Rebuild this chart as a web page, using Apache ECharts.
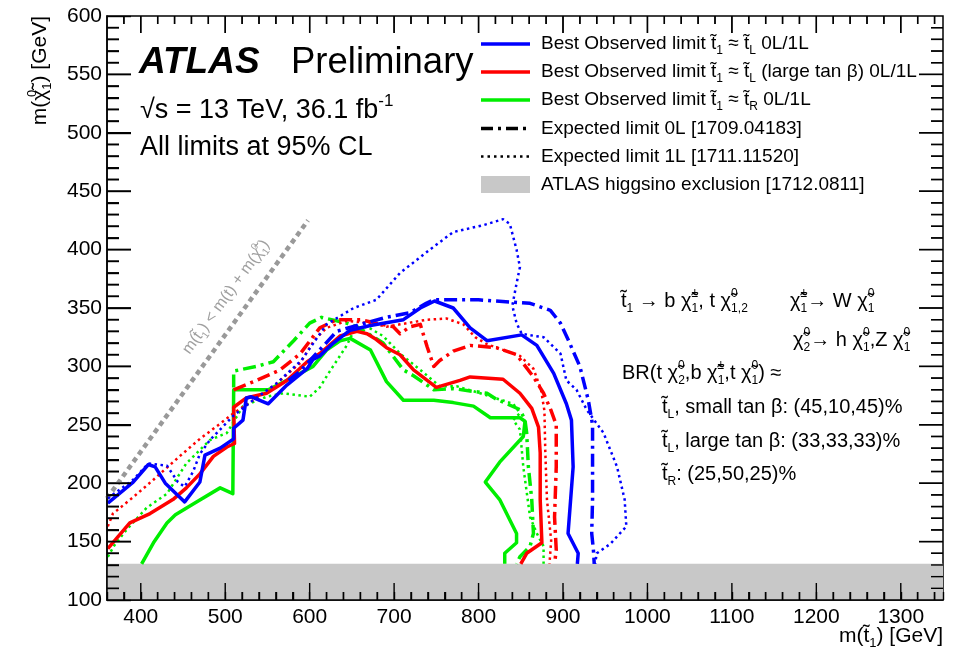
<!DOCTYPE html>
<html>
<head>
<meta charset="utf-8">
<script src="https://cdn.jsdelivr.net/npm/echarts@6/dist/echarts.min.js"></script>
<style>
  html, body { margin: 0; padding: 0; background: #fff; }
  #chart { width: 954px; height: 655px; }
</style>
</head>
<body>
<div id="chart"></div>
<script>
// axis ranges and tick labels
const xRange = [360, 1350]
const yRange = [100, 600]
const xTickLabels = [400, 500, 600, 700, 800, 900, 1000, 1100, 1200, 1300]
const yTickLabels = [100, 150, 200, 250, 300, 350, 400, 450, 500, 550, 600]

// higgsino exclusion band (upper edge) and kinematic limit
const higgsinoBand = [[360, 131], [1350, 131]]
const kinematicLine = [[360, 187], [598, 425]]

// t1 ~ tL (blue)
const blueObs = [[361,183],[391,201],[409,216],[417,214],[429,200],[452,184],[470,201],[476,224],[494,230],[510,238],[510,247],[521,254],[525,273],[531,274],[551,268],[573,284],[597,298],[604,306],[612,309],[628,320],[648,331],[672,335],[711,340],[731,350],[748,356],[770,350],[790,333],[810,322],[851,327],[869,318],[889,294],[904,268],[910,254],[912,214],[906,157],[918,140],[917,131]]
const blueExp0L = [[575,288],[589,296],[608,311],[632,330],[660,336],[691,342],[719,346],[738,354],[747,357],[800,357],[861,354],[885,348],[897,337],[906,323],[920,300],[930,271],[935,250],[935,186],[934,157],[936,143],[937,131]]
const blueExp1L = [[361,187],[391,203],[409,217],[431,215],[444,201],[452,197],[462,210],[470,225],[482,237],[510,258],[533,271],[560,285],[590,305],[620,336],[652,350],[679,357],[707,380],[746,402],[770,415],[806,421],[829,426],[837,422],[845,400],[849,385],[845,371],[840,352],[845,337],[851,328],[867,326],[877,325],[897,311],[904,288],[916,280],[928,263],[948,243],[964,214],[973,186],[975,163],[956,148],[940,140],[938,131]]

// t1 ~ tL large tan beta (red)
const redObs = [[361,144],[387,166],[411,174],[438,186],[454,196],[470,208],[486,223],[502,231],[511,234],[510,265],[525,273],[549,277],[573,288],[597,304],[612,311],[636,326],[656,330],[668,328],[679,323],[691,316],[707,310],[723,297],[750,282],[778,288],[790,291],[829,289],[849,277],[863,264],[871,248],[873,226],[873,186],[875,149],[857,140],[850,131]]
const redExp0L = [[510,280],[537,288],[565,297],[589,311],[612,333],[632,340],[660,340],[699,334],[707,328],[719,334],[731,336],[739,317],[747,300],[754,305],[770,313],[790,318],[821,316],[845,310],[865,291],[877,277],[886,262],[892,250],[892,214],[890,171],[892,143],[890,131]]
const redExp1L = [[361,163],[367,174],[391,188],[415,203],[446,223],[470,238],[494,251],[510,260],[533,271],[557,283],[589,303],[605,322],[620,333],[644,339],[672,337],[691,334],[707,336],[739,340],[762,341],[782,336],[796,325],[810,319],[849,309],[865,298],[874,280],[878,262],[879,228],[881,186],[886,151],[884,131]]

// t1 ~ tR (green)
const greenObs = [[401,131],[415,149],[431,166],[441,173],[466,184],[494,196],[509,191],[510,280],[551,280],[581,291],[604,300],[620,314],[636,322],[648,324],[672,314],[691,287],[711,271],[747,271],[770,269],[794,266],[814,256],[849,256],[855,253],[853,240],[825,218],[808,201],[825,186],[845,157],[845,149],[831,140],[831,131]]
const greenExp0L = [[510,282],[510,296],[537,300],[557,304],[581,322],[600,337],[614,342],[644,337],[656,334],[687,320],[711,297],[723,292],[747,280],[770,281],[810,277],[821,272],[849,263],[855,254],[857,243],[859,214],[863,186],[865,157],[861,146],[849,137],[845,131]]
const greenExp1L = [[361,137],[368,146],[383,160],[407,179],[431,191],[454,217],[482,237],[502,243],[521,266],[549,274],[569,277],[600,274],[612,282],[624,296],[644,318],[652,330],[668,334],[687,326],[707,311],[731,297],[754,283],[774,283],[802,277],[841,268],[849,260],[841,254],[849,246],[853,214],[861,171],[869,157],[877,146],[877,131]]

const FONT = 'Liberation Sans, Arial, Helvetica, sans-serif'
const BLUE = '#0000ff', RED = '#ff0000', GREEN = '#00ee00'
const W = 954, H = 655
const GRID = { left: 107, right: 11, top: 16, bottom: 55 }
const plotW = W - GRID.left - GRID.right
const plotH = H - GRID.top - GRID.bottom

// tick marks: one short two-point line per tick (same mechanism as the curves)
const gevPerPxX = (xRange[1] - xRange[0]) / plotW
const gevPerPxY = (yRange[1] - yRange[0]) / plotH
const tickLines = []
function tick (data) {
  tickLines.push({
    type: 'line', data: data, symbol: 'none', z: 6, silent: true, clip: false,
    lineStyle: { color: '#000', width: 1.4, type: 'solid', cap: 'butt' }
  })
}
for (let v = xRange[0] + 20; v < xRange[1]; v += 20) {
  const len = (v % 100 ? 8 : 17) * gevPerPxY
  tick([[v, yRange[0]], [v, yRange[0] + len]])
  tick([[v, yRange[1]], [v, yRange[1] - len]])
}
for (let v = yRange[0] + 10; v < yRange[1]; v += 10) {
  const len = (v % 50 ? 12 : 24) * gevPerPxX
  tick([[xRange[0], v], [xRange[0] + len, v]])
  tick([[xRange[1], v], [xRange[1] - len, v]])
}

const styles = {
  solid: { width: 3.5, type: 'solid' },
  dashdot: { width: 3.5, type: [13, 5, 3, 5] },
  dotted: { width: 2.5, type: [2.5, 3.5] }
}
function curve (data, color, kind) {
  return {
    type: 'line', data: data, symbol: 'none', showSymbol: false, z: 3, silent: true,
    lineStyle: { color: color, width: styles[kind].width, type: styles[kind].type, cap: 'butt', join: 'round' }
  }
}

function rich (fs, color) {
  const small = Math.round(fs * 0.62)
  const L = Math.round(fs * 1.35)
  return {
    s: { fontSize: small, fontFamily: FONT, fill: color, lineHeight: L - 0.7 * fs, verticalAlign: 'bottom' },
    p: { fontSize: small, fontFamily: FONT, fill: color, lineHeight: L - 0.93 * fs, verticalAlign: 'top' },
    z: { fontSize: small, fontFamily: FONT, fill: color, lineHeight: L - 0.93 * fs, verticalAlign: 'top', width: 0.1 }
  }
}
function txt (x, y, text, fs, opt) {
  opt = opt || {}
  const color = opt.color || '#000'
  return {
    type: 'text', x: x, y: y, z: 100, rotation: opt.rotation || 0,
    style: {
      text: text, fill: color, fontSize: fs, fontFamily: FONT,
      fontWeight: opt.weight || 'normal', fontStyle: opt.fstyle || 'normal',
      align: opt.align || 'left', verticalAlign: 'middle',
      lineHeight: Math.round(fs * 1.35), rich: rich(fs, color)
    }
  }
}

const T = 't\u0303'
const C = '\u03c7\u0303'

// tick marks again as thin filled rects in the graphic layer (same positions as above)
const tickRects = []
function xPx (v) { return GRID.left + (v - xRange[0]) / gevPerPxX }
function yPx (v) { return GRID.top + plotH - (v - yRange[0]) / gevPerPxY }
for (let v = xRange[0] + 20; v < xRange[1]; v += 20) {
  const len = v % 100 ? 8 : 17
  const x = xPx(v)
  tickRects.push({ type: 'rect', shape: { x: x - 0.7, y: GRID.top + plotH - len, width: 1.4, height: len }, style: { fill: '#000' } })
  tickRects.push({ type: 'rect', shape: { x: x - 0.7, y: GRID.top, width: 1.4, height: len }, style: { fill: '#000' } })
}
for (let v = yRange[0] + 10; v < yRange[1]; v += 10) {
  const len = v % 50 ? 12 : 24
  const y = yPx(v)
  tickRects.push({ type: 'rect', shape: { x: GRID.left, y: y - 0.7, width: len, height: 1.4 }, style: { fill: '#000' } })
  tickRects.push({ type: 'rect', shape: { x: GRID.left + plotW - len, y: y - 0.7, width: len, height: 1.4 }, style: { fill: '#000' } })
}

// legend
const legRows = [44, 72, 100, 128.5, 156.5]
const legend = [
  { type: 'line', shape: { x1: 481, y1: legRows[0], x2: 530, y2: legRows[0] }, style: { stroke: BLUE, lineWidth: 3.5 } },
  { type: 'line', shape: { x1: 481, y1: legRows[1], x2: 530, y2: legRows[1] }, style: { stroke: RED, lineWidth: 3.5 } },
  { type: 'line', shape: { x1: 481, y1: legRows[2], x2: 530, y2: legRows[2] }, style: { stroke: GREEN, lineWidth: 3.5 } },
  { type: 'line', shape: { x1: 481, y1: legRows[3], x2: 530, y2: legRows[3] }, style: { stroke: '#000', lineWidth: 3.5, lineDash: [12, 5, 3, 5] } },
  { type: 'line', shape: { x1: 481, y1: legRows[4], x2: 530, y2: legRows[4] }, style: { stroke: '#000', lineWidth: 2.5, lineDash: [2.5, 4] } },
  { type: 'rect', shape: { x: 481, y: 176, width: 49, height: 17 }, style: { fill: '#c8c8c8' } },
  txt(541, legRows[0], 'Best Observed limit ' + T + '{s|1} \u2248 ' + T + '{s|L} 0L/1L', 19),
  txt(541, legRows[1], 'Best Observed limit ' + T + '{s|1} \u2248 ' + T + '{s|L} (large tan \u03b2) 0L/1L', 19),
  txt(541, legRows[2], 'Best Observed limit ' + T + '{s|1} \u2248 ' + T + '{s|R} 0L/1L', 19),
  txt(541, legRows[3], 'Expected limit 0L [1709.04183]', 19),
  txt(541, legRows[4], 'Expected limit 1L [1711.11520]', 19),
  txt(541, 184.5, 'ATLAS higgsino exclusion [1712.0811]', 19)
]

const labels = [
  txt(139, 63, 'ATLAS', 37, { weight: 'bold', fstyle: 'italic' }),
  txt(291, 63, 'Preliminary', 36.5),
  txt(140, 111, '\u221as = 13 TeV, 36.1 fb{p|-1}', 27),
  txt(140, 148, 'All limits at 95% CL', 27),
  txt(621, 301, T + '{s|1} \u2192 b ' + C + '{z|\u00b1}{s|1}, t ' + C + '{z|0}{s|1,2}', 20),
  txt(790, 301, C + '{z|\u00b1}{s|1}\u2192 W ' + C + '{z|0}{s|1}', 20),
  txt(793, 340, C + '{z|0}{s|2}\u2192 h ' + C + '{z|0}{s|1},Z ' + C + '{z|0}{s|1}', 20),
  txt(622, 373, 'BR(t ' + C + '{z|0}{s|2},b ' + C + '{z|\u00b1}{s|1},t ' + C + '{z|0}{s|1}) \u2248', 20),
  txt(662, 407, T + '{s|L}, small tan \u03b2: (45,10,45)%', 20),
  txt(662, 441, T + '{s|L}, large tan \u03b2: (33,33,33)%', 20),
  txt(662, 474, T + '{s|R}: (25,50,25)%', 20),
  txt(226, 297, 'm(' + T + '{s|1}) < m(t) + m(' + C + '{z|0}{s|1})', 16, { color: '#a0a0a0', align: 'center', rotation: 54.1 * Math.PI / 180 }),
  txt(943, 636, 'm(' + T + '{s|1}) [GeV]', 21, { align: 'right' }),
  txt(40, 16, 'm(' + C + '{z|0}{s|1}) [GeV]', 21, { align: 'right', rotation: Math.PI / 2 })
]

const myChart = echarts.init(document.getElementById('chart'), null, { renderer: 'canvas' })
const option = {
  animation: false,
  grid: Object.assign({ show: true, borderColor: '#000', borderWidth: 1.5, backgroundColor: 'transparent' }, GRID),
  xAxis: {
    type: 'value', min: xRange[0], max: xRange[1], interval: 20, z: 10,
    axisLine: { show: true, onZero: false, lineStyle: { color: '#000', width: 1.5 } },
    splitLine: { show: false },
    axisTick: { show: true, inside: true, length: 8, lineStyle: { color: '#000', width: 1.4 } },
    axisLabel: {
      color: '#000', fontSize: 21, fontFamily: FONT, margin: 7,
      formatter: v => (xTickLabels.indexOf(v) >= 0 ? String(v) : '')
    }
  },
  yAxis: {
    type: 'value', min: yRange[0], max: yRange[1], interval: 50, z: 10,
    axisLine: { show: true, onZero: false, lineStyle: { color: '#000', width: 1.5 } },
    splitLine: { show: false },
    axisTick: { show: true, inside: true, length: 24, lineStyle: { color: '#000', width: 1.4 } },
    minorTick: { show: true, splitNumber: 5, length: 12, lineStyle: { color: '#000', width: 1.4 } },
    axisLabel: {
      color: '#000', fontSize: 21, fontFamily: FONT, margin: 5,
      formatter: v => (yTickLabels.indexOf(v) >= 0 ? String(v) : '')
    }
  },
  series: [
    {
      type: 'line', data: higgsinoBand, symbol: 'none', z: 1, silent: true,
      lineStyle: { width: 0 }, areaStyle: { color: '#c8c8c8', opacity: 1, origin: 'start' }
    },
    {
      type: 'line', data: kinematicLine, symbol: 'none', z: 2, silent: true,
      lineStyle: { color: '#999', width: 4.5, type: [5, 4] }
    },
    curve(greenExp1L, GREEN, 'dotted'),
    curve(greenExp0L, GREEN, 'dashdot'),
    curve(greenObs, GREEN, 'solid'),
    curve(redExp1L, RED, 'dotted'),
    curve(redExp0L, RED, 'dashdot'),
    curve(redObs, RED, 'solid'),
    curve(blueExp1L, BLUE, 'dotted'),
    curve(blueExp0L, BLUE, 'dashdot'),
    curve(blueObs, BLUE, 'solid')
  ].concat(tickLines),
  graphic: legend.concat(labels, tickRects)
}
myChart.setOption(option)
</script>
</body>
</html>
